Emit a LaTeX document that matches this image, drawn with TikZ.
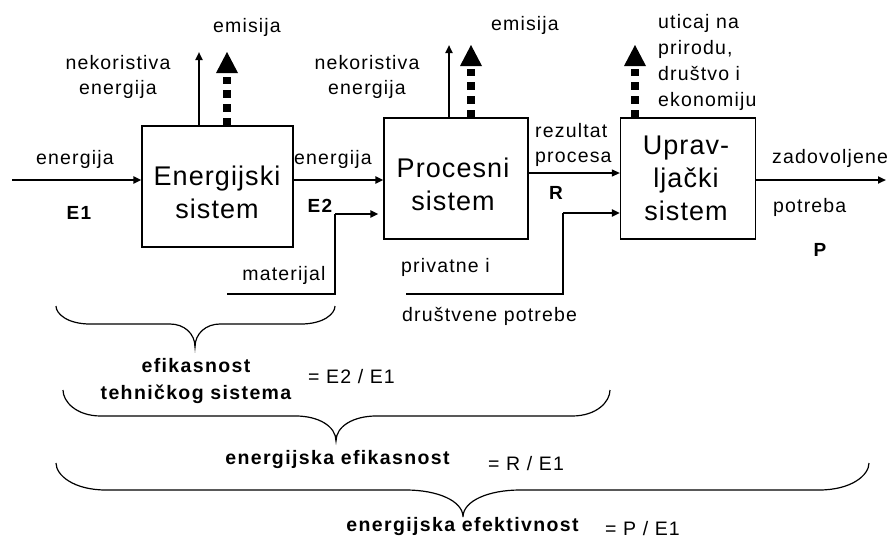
\documentclass[tikz,border=0pt]{standalone}
\usepackage{fontspec}
\setmainfont{Liberation Sans}
\newfontfamily\smallf[LetterSpace=6]{Liberation Sans}
\newfontfamily\boxf[LetterSpace=4]{Liberation Sans}
\newfontfamily\boldf[LetterSpace=7]{Liberation Sans}
\usetikzlibrary{arrows.meta,calc}

\tikzset{
 sysbox/.style={draw, line width=1.3pt, inner sep=0pt, minimum height=121pt},
 boxtxt/.style={font=\boxf\fontsize{27}{33}\selectfont, align=center, inner sep=0pt},
 smalltxt/.style={font=\smallf\fontsize{19.5}{25}\selectfont, align=center, inner sep=0pt},
 lefttxt/.style={smalltxt, align=left, anchor=west},
 boldtxt/.style={font=\boldf\bfseries\fontsize{19.5}{24}\selectfont, align=center, inner sep=0pt},
 bigletter/.style={font=\boldf\bfseries\fontsize{19}{21}\selectfont, inner sep=0pt},
 flowthick/.style={line width=2pt, -{Triangle[length=8pt,width=7pt]}},
 flowthin/.style={line width=1.2pt, -{Triangle[length=8pt,width=7pt]}},
 plainline/.style={line width=1.2pt},
 dashshaft/.style={line width=8pt, dash pattern=on 7.3pt off 6.5pt},
 bracestyle/.style={line width=1.2pt},
}

% #1 left x, #2 right x, #3 end y, #4 line y, #5 tip x, #6 tip y, #7 end curve width, #8 tip half width
\newcommand\hbrace[8]{%
 \draw[bracestyle] (#1,#3) .. controls (#1,{#4-0.55*(#4-#3)}) and ({#1+0.35*#7},#4) .. ({#1+#7},#4)
   -- ({#5-#8},#4) .. controls ({#5-0.45*#8},#4) and (#5,{#6-0.6*(#6-#4)}) .. (#5,#6)
   .. controls (#5,{#6-0.6*(#6-#4)}) and ({#5+0.45*#8},#4) .. ({#5+#8},#4)
   -- ({#2-#7},#4) .. controls ({#2-0.35*#7},#4) and (#2,{#4-0.55*(#4-#3)}) .. (#2,#3);}

\begin{document}
\begin{tikzpicture}[x=1pt,y=-1pt]
\fill[white] (0,0) rectangle (894,544);
\useasboundingbox (0,0) rectangle (894,544);

% system boxes
\node[sysbox, minimum width=151pt] (b1) at (217.5,186.5) {};
\node[sysbox, minimum width=144pt] (b2) at (456,178.5) {};
\node[sysbox, minimum width=135pt] (b3) at (688,178.5) {};

\node[boxtxt] (t1) at (217,195) {\strut Energijski\\\strut sistem};
\node[boxtxt] (t2) at (453,187) {\strut Procesni\\\strut sistem};
\node[boxtxt] (t3) at (686,181) {\strut Uprav-\\\strut ljački\\\strut sistem};

% horizontal flows
\coordinate (ein) at (12,180);
\draw[flowthick] (ein) -- (ein -| b1.west);
\draw[flowthick] (b1.east |- ein) -- (b2.west |- ein);

\coordinate (matstart) at (227,294);
\coordinate (matbend) at (335,214);
\draw[plainline] (matstart) -| (matbend);
\draw[flowthick] (matbend) -- ([xshift=-5pt]matbend -| b2.west);

\coordinate (rez) at (0,173);
\draw[flowthin] (b2.east |- rez) -- (b3.west |- rez);

\coordinate (privstart) at (406,294);
\coordinate (privbend) at (563,213);
\draw[plainline] (privstart) -| (privbend);
\draw[flowthick] (privbend) -- (privbend -| b3.west);

\coordinate (pend) at (886,180);
\draw[flowthick] (b3.east |- pend) -- (pend);

% upward flows
\coordinate (u1) at (199,52);
\draw[flowthick] (u1 |- b1.north) -- (u1);
\coordinate (u2) at (449,45);
\draw[flowthick] (u2 |- b2.north) -- (u2);

\coordinate (d1) at (227,52);
\draw[dashshaft] (d1 |- b1.north) -- ($(d1)+(0,21)$);
\fill (d1) -- ++(-11,21) -- ++(22,0) -- cycle;
\coordinate (d2) at (471,45);
\draw[dashshaft] (d2 |- b2.north) -- ($(d2)+(0,21)$);
\fill (d2) -- ++(-11,21) -- ++(22,0) -- cycle;
\coordinate (d3) at (635,45);
\draw[dashshaft] (d3 |- b3.north) -- ($(d3)+(0,21)$);
\fill (d3) -- ++(-11,21) -- ++(22,0) -- cycle;

% labels
\node[smalltxt] (em1) at (247,27) {\strut emisija};
\node[smalltxt] (em2) at (525,25) {\strut emisija};
\node[smalltxt] (nek1) at (118,76.5) {\strut nekoristiva\\\strut energija};
\node[smalltxt] (nek2) at (367,76.5) {\strut nekoristiva\\\strut energija};
\node[smalltxt] (en1) at (75,159) {\strut energija};
\node[smalltxt] (en2) at (333,159) {\strut energija};
\node[bigletter] (le1) at (79,215) {\strut E1};
\node[bigletter] (le2) at (320,208.5) {\strut E2};
\node[smalltxt] (mat) at (284,275) {\strut materijal};
\node[lefttxt] (rezt) at (535,144.5) {\strut rezultat\\\strut procesa};
\node[bigletter] (lr) at (556,195) {\strut R};
\node[lefttxt, font=\smallf\fontsize{19.5}{26}\selectfont] (utic) at (658,62) {\strut uticaj na\\\strut prirodu,\\\strut društvo i\\\strut ekonomiju};
\node[lefttxt] (zad) at (772,158) {\strut zadovoljene};
\node[lefttxt] (pot) at (773,207) {\strut potreba};
\node[bigletter] (lp) at (820,252.5) {\strut P};
\node[lefttxt] (priv) at (401,267) {\strut privatne i};
\node[lefttxt] (drus) at (402,316) {\strut društvene potrebe};

% braces
\hbrace{56}{335}{306}{324}{195}{347}{34}{25}
\hbrace{63}{610}{390}{416}{336}{441}{38}{40}
\hbrace{56}{869}{463}{490}{463}{517}{50}{57}

\node[boldtxt, font=\boldf\bfseries\fontsize{19.5}{27}\selectfont] (eff1) at (196,380.5) {\strut efikasnost\\\strut tehničkog sistema};
\node[lefttxt] (f1) at (308,378) {\strut = E2 / E1};
\node[boldtxt] (eff2) at (337.5,460) {\strut energijska efikasnost};
\node[lefttxt] (f2) at (488,465) {\strut = R / E1};
\node[boldtxt] (eff3) at (462.5,527) {\strut energijska efektivnost};
\node[lefttxt] (f3) at (605,530) {\strut = P / E1};
\end{tikzpicture}
\end{document}
